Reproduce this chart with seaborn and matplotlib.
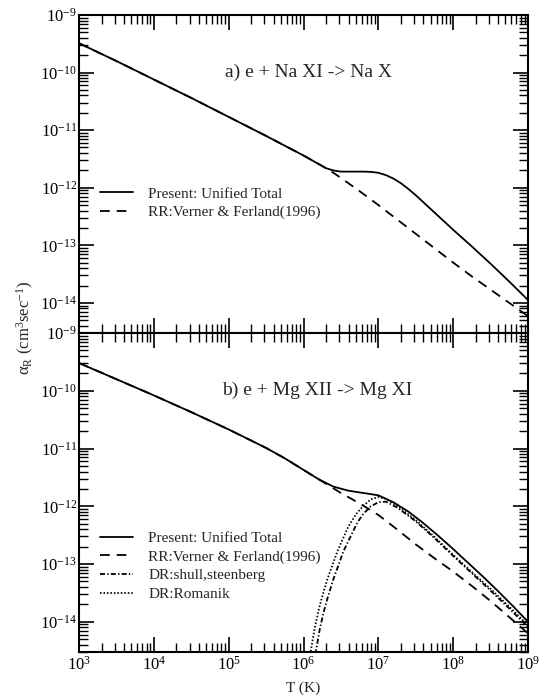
import numpy as np
import pandas as pd
import matplotlib
matplotlib.use("Agg")
import matplotlib.pyplot as plt
from matplotlib.ticker import FixedLocator, NullFormatter
import seaborn as sns

# ---- data: log10 T (K) and log10 alpha_R (cm^3 s^-1) ----
# Panel a) e + Na XI -> Na X
na_total_logT = [3.0, 3.5, 4.0, 4.5, 5.0, 5.5, 5.75, 6.0, 6.15, 6.3, 6.4, 6.5,
                 6.6, 6.7, 6.8, 6.9, 7.0, 7.1, 7.2, 7.3, 7.4, 7.5, 7.6, 7.7,
                 7.8, 8.0, 8.25, 8.5, 8.75, 9.0]
na_total_loga = [-9.49, -9.80, -10.12, -10.44, -10.77, -11.10, -11.27, -11.44,
                 -11.55, -11.66, -11.70, -11.72, -11.72, -11.72, -11.72, -11.725,
                 -11.74, -11.78, -11.84, -11.92, -12.02, -12.13, -12.25, -12.37,
                 -12.49, -12.73, -13.02, -13.32, -13.63, -13.95]
na_rr_logT = [3.0, 3.5, 4.0, 4.5, 5.0, 5.5, 5.75, 6.0, 6.15, 6.3, 6.4, 6.5,
              6.75, 7.0, 7.25, 7.5, 7.75, 8.0, 8.25, 8.5, 8.75, 9.0]
na_rr_loga = [-9.49, -9.80, -10.12, -10.44, -10.77, -11.10, -11.27, -11.44,
              -11.55, -11.66, -11.74, -11.83, -12.06, -12.30, -12.55, -12.80,
              -13.05, -13.30, -13.54, -13.77, -14.00, -14.23]

# Panel b) e + Mg XII -> Mg XI
mg_total_logT = [3.0, 3.5, 4.0, 4.5, 5.0, 5.5, 5.75, 6.0, 6.2, 6.4, 6.6, 6.8,
                 7.0, 7.2, 7.4, 7.6, 7.8, 8.0, 8.2, 8.4, 8.6, 8.8, 9.0]
mg_total_loga = [-9.52, -9.80, -10.08, -10.37, -10.67, -10.99, -11.17, -11.37,
                 -11.53, -11.66, -11.73, -11.77, -11.81, -11.93, -12.09, -12.29,
                 -12.51, -12.74, -12.98, -13.22, -13.47, -13.73, -14.00]
mg_rr_logT = [3.0, 3.5, 4.0, 4.5, 5.0, 5.5, 5.75, 6.0, 6.2, 6.4, 6.5, 6.75,
              7.0, 7.25, 7.5, 7.75, 8.0, 8.25, 8.5, 8.75, 9.0]
mg_rr_loga = [-9.52, -9.80, -10.08, -10.37, -10.67, -10.99, -11.17, -11.37,
              -11.53, -11.69, -11.77, -11.95, -12.15, -12.40, -12.66, -12.90,
              -13.13, -13.38, -13.64, -13.92, -14.20]
mg_dr_ss_logT = [6.14, 6.17, 6.22, 6.27, 6.33, 6.40, 6.47, 6.53, 6.60, 6.72,
                 6.80, 6.90, 7.00, 7.10, 7.25, 7.5, 7.75, 8.0, 8.25, 8.5, 8.75,
                 9.0]
mg_dr_ss_loga = [-14.75, -14.48, -14.11, -13.83, -13.55, -13.26, -13.01,
                 -12.79, -12.60, -12.28, -12.13, -12.00, -11.93, -11.92, -12.02,
                 -12.26, -12.55, -12.86, -13.16, -13.46, -13.77, -14.09]
mg_dr_rom_logT = [6.07, 6.10, 6.15, 6.20, 6.25, 6.32, 6.40, 6.45, 6.50, 6.60,
                  6.70, 6.80, 6.90, 7.00, 7.10, 7.25, 7.5, 7.75, 8.0, 8.25, 8.5,
                  8.75, 9.0]
mg_dr_rom_loga = [-14.75, -14.48, -14.11, -13.81, -13.56, -13.26, -12.97,
                  -12.79, -12.64, -12.35, -12.14, -11.99, -11.88, -11.84, -11.87,
                  -11.99, -12.24, -12.53, -12.84, -13.14, -13.43, -13.74, -14.06]

lbl_total = "Present: Unified Total"
lbl_rr = "RR:Verner & Ferland(1996)"
lbl_ss = "DR:shull,steenberg"
lbl_rom = "DR:Romanik"

# axis ranges and tick positions
T_MIN, T_MAX = 1e3, 1e9
A_MIN, A_MAX = 3e-15, 1e-9
x_major = [10.0 ** k for k in range(3, 10)]
y_major = [10.0 ** k for k in range(-14, -8)]

# ---- style ----
sns.set_theme(style="ticks")
plt.rcParams.update({
    "font.family": ["Liberation Serif", "DejaVu Serif"],
    "mathtext.fontset": "custom",
    "mathtext.rm": "Liberation Serif",
    "mathtext.it": "Liberation Serif:italic",
    "mathtext.bf": "Liberation Serif:bold",
    "lines.scale_dashes": False,
    "axes.linewidth": 1.5,
    "axes.edgecolor": "black",
    "xtick.color": "black",
    "ytick.color": "black",
})

STYLES = {
    "solid": "-",
    "dashed": (0, (7.0, 5.0)),
    "dashdot": (0, (3.6, 1.6, 1.0, 1.6)),
    "dotted": (0, (1.1, 1.4)),
}


def curve(ax, logT, loga, style, label, lw=1.3):
    df = pd.DataFrame({"T": np.power(10.0, logT), "alpha": np.power(10.0, loga)})
    sns.lineplot(data=df, x="T", y="alpha", ax=ax, color="black", lw=lw,
                 estimator=None, sort=False, legend=False)
    line = ax.lines[-1]
    line.set_linestyle(STYLES[style])
    line.set_label(label)
    return line


def minor_ticks(lo, hi):
    out = []
    for k in range(int(np.floor(np.log10(lo))), int(np.ceil(np.log10(hi))) + 1):
        for m in range(2, 10):
            v = m * 10.0 ** k
            if lo < v < hi:
                out.append(v)
    return out


fig = plt.figure(figsize=(5.46, 7.0), dpi=100)
left, right = 79 / 546, 528 / 546
ax_a = fig.add_axes([left, 1 - 333 / 700, right - left, 318 / 700])
ax_b = fig.add_axes([left, 1 - 652 / 700, right - left, 319 / 700])

curve(ax_a, na_rr_logT, na_rr_loga, "dashed", lbl_rr)
curve(ax_a, na_total_logT, na_total_loga, "solid", lbl_total)

curve(ax_b, mg_rr_logT, mg_rr_loga, "dashed", lbl_rr)
curve(ax_b, mg_dr_ss_logT, mg_dr_ss_loga, "dashdot", lbl_ss)
curve(ax_b, mg_dr_rom_logT, mg_dr_rom_loga, "dotted", lbl_rom)
curve(ax_b, mg_total_logT, mg_total_loga, "solid", lbl_total)

for ax in (ax_a, ax_b):
    ax.set_xscale("log")
    ax.set_yscale("log")
    ax.set_xlim(T_MIN, T_MAX)
    ax.set_ylim(A_MIN, A_MAX)
    ax.xaxis.set_major_locator(FixedLocator(x_major))
    ax.yaxis.set_major_locator(FixedLocator(y_major))
    ax.xaxis.set_minor_locator(FixedLocator(minor_ticks(T_MIN, T_MAX)))
    ax.yaxis.set_minor_locator(FixedLocator(minor_ticks(A_MIN, A_MAX)))
    ax.xaxis.set_minor_formatter(NullFormatter())
    ax.yaxis.set_minor_formatter(NullFormatter())
    ax.tick_params(which="both", direction="in", top=True, right=True,
                   labelsize=12, colors="black")
    ax.tick_params(which="major", length=11, width=1.2)
    ax.tick_params(which="minor", length=6.5, width=1.0)
    ax.tick_params(axis="y", which="major", pad=1.5)
    ax.tick_params(axis="x", which="major", pad=3)
    ax.xaxis.label.set_visible(False)
    ax.yaxis.label.set_visible(False)
    for sp in ax.spines.values():
        sp.set_visible(True)
        sp.set_linewidth(1.5)

ax_a.tick_params(axis="x", labelbottom=False)

# panel titles
ax_a.text(0.325, 0.82, "a) e + Na XI -> Na X", transform=ax_a.transAxes,
          fontsize=14, ha="left", va="center")
ax_b.text(0.318, 0.82, "b) e + Mg XII -> Mg XI", transform=ax_b.transAxes,
          fontsize=14, ha="left", va="center")

# legends
leg_kw = dict(loc="upper left", frameon=False, fontsize=11, borderpad=0,
              borderaxespad=0, handlelength=2.15, handletextpad=1.0,
              labelspacing=0.32)
h_a = {l.get_label(): l for l in ax_a.lines}
ax_a.legend([h_a[lbl_total], h_a[lbl_rr]], [lbl_total, lbl_rr],
            bbox_to_anchor=(0.047, 0.459), **leg_kw)
h_b = {l.get_label(): l for l in ax_b.lines}
ax_b.legend([h_b[lbl_total], h_b[lbl_rr], h_b[lbl_ss], h_b[lbl_rom]],
            [lbl_total, lbl_rr, lbl_ss, lbl_rom],
            bbox_to_anchor=(0.047, 0.378), **leg_kw)

fig.text(25 / 546, 1 - 328 / 700, r"$\mathrm{\alpha_R}$ (cm$^3$sec$^{-1}$)",
         rotation=90, ha="center", va="center", fontsize=12)
fig.text((79 + 528) / 2 / 546, 1 - 688 / 700, "T (K)", ha="center",
         va="center", fontsize=11)

fig.savefig("out.png", dpi=100)
